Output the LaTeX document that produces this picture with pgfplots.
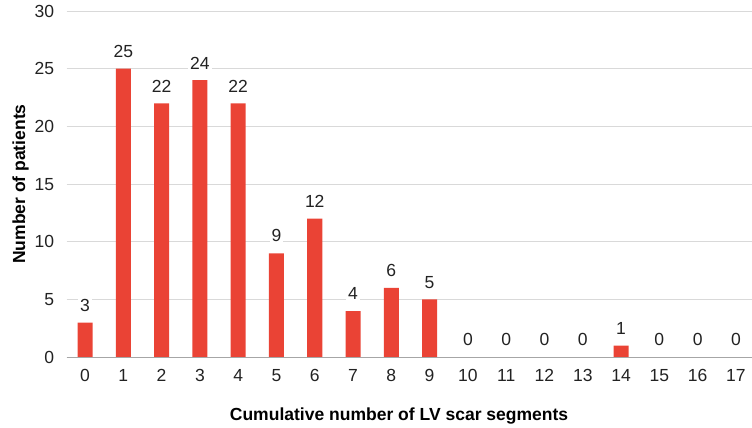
\documentclass[border=0pt]{standalone}
\usepackage{pgfplots}
\pgfplotsset{compat=1.18}
\usepackage{fontspec}
\setmainfont{Liberation Sans}
\definecolor{barred}{HTML}{EA4335}
\definecolor{gridgray}{HTML}{D9D9D9}
\definecolor{txt}{HTML}{222222}
\begin{document}
\begin{tikzpicture}
\begin{axis}[
  name=ax,
  scale only axis,
  width=685pt, height=346pt,
  xmin=-0.48, xmax=17.42,
  ymin=0, ymax=30,
  ytick={0,5,...,30},
  xtick={0,...,17},
  axis line style={draw=none},
  major tick length=0pt,
  ymajorgrids,
  grid style={gridgray, line width=1pt},
  ybar, bar width=15pt,
  tick label style={font=\fontsize{17.5}{20}\selectfont, text=txt},
  /pgf/number format/assume math mode=true,
  xticklabel style={yshift=-9pt},
  yticklabel style={xshift=-9pt},
  xlabel={\bfseries Cumulative number of LV scar segments},
  ylabel={\bfseries Number of patients},
  label style={font=\fontsize{17.5}{20}\selectfont, text=black},
  xlabel style={at={(rel axis cs:0.485,0)}, anchor=center, yshift=-59pt},
  ylabel style={at={(rel axis cs:0,0.5)}, anchor=center, yshift=46pt},
  nodes near coords,
  every node near coord/.append style={font=\fontsize{17.5}{20}\selectfont, text=txt,
    fill=white, inner sep=2pt, anchor=south, yshift=9pt},
  clip=false,
]
\addplot[fill=barred, draw=none] coordinates {
  (0,3) (1,25) (2,22) (3,24) (4,22) (5,9) (6,12) (7,4) (8,6) (9,5)
  (10,0) (11,0) (12,0) (13,0) (14,1) (15,0) (16,0) (17,0)
};
\draw[gray!70, line width=1pt] (axis cs:-0.48,0) -- (axis cs:17.42,0);
\end{axis}
\pgfresetboundingbox
\path ([xshift=-66.6pt,yshift=-70pt]ax.south west) rectangle ([yshift=11pt]ax.north east);
\end{tikzpicture}
\end{document}
